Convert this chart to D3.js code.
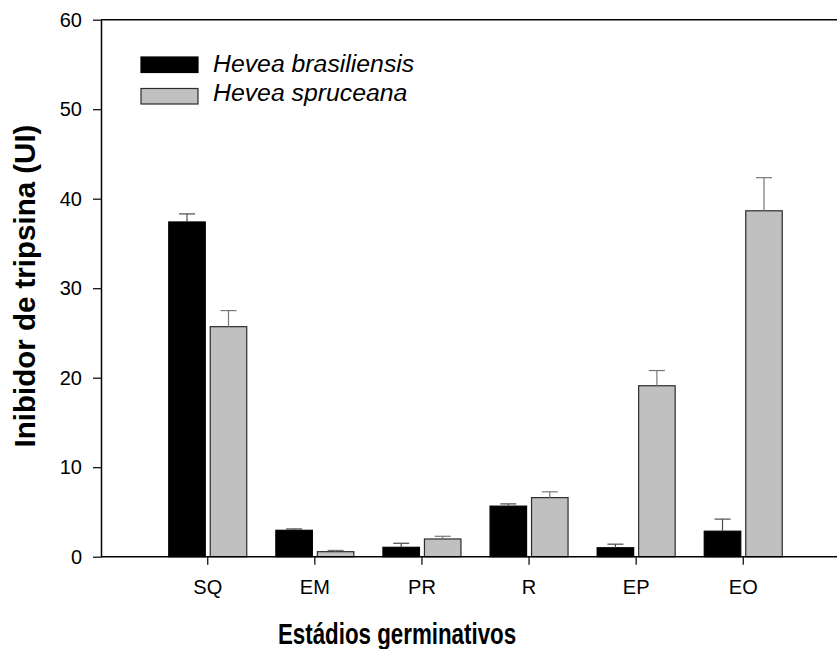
<!DOCTYPE html>
<html>
<head>
<meta charset="utf-8">
<script src="https://cdn.jsdelivr.net/npm/d3@7/dist/d3.min.js"></script>
<style>
  body { margin: 0; background: #fff; }
  svg { display: block; font-family: Arial, "Liberation Sans", sans-serif; }
</style>
</head>
<body>
<div id="chart"></div>
<script>
// stages and the two species
var stages = ['SQ', 'EM', 'PR', 'R', 'EP', 'EO'];
var series = ['Hevea brasiliensis', 'Hevea spruceana'];
var brasiliensis = [37.4, 2.95, 1.05, 5.65, 1.0, 2.85];
var brasiliensisErr = [0.9, 0.15, 0.45, 0.25, 0.4, 1.35];
var spruceana = [25.7, 0.56, 1.98, 6.6, 19.1, 38.65];
var spruceanaErr = [1.8, 0.14, 0.3, 0.65, 1.7, 3.7];
var yTicks = [0, 10, 20, 30, 40, 50, 60];

var width = 838, height = 649;
var plotLeft = 101, plotRight = 837, plotTop = 19.7, plotBottom = 556.7;

var colors = { 'Hevea brasiliensis': '#000000', 'Hevea spruceana': '#c0c0c0' };
var strokes = { 'Hevea brasiliensis': '#000000', 'Hevea spruceana': '#2b2b2b' };
var errColors = { 'Hevea brasiliensis': '#4a4a4a', 'Hevea spruceana': '#777777' };

var data = stages.map(function(s, i){
    return {
        stage: s,
        values: [
            { key: series[0], v: brasiliensis[i], e: brasiliensisErr[i] },
            { key: series[1], v: spruceana[i], e: spruceanaErr[i] }
        ]
    };
});

var svg = d3.select('#chart').append('svg')
    .attr('width', width)
    .attr('height', height);

var x = d3.scaleBand()
    .domain(stages)
    .range([154.2, 796.8]);

var x1 = d3.scaleBand()
    .domain(series)
    .range([-39, 39])
    .paddingInner(0.12);

var y = d3.scaleLinear()
    .domain([0, 60])
    .range([plotBottom, plotTop]);

// bars
var groups = svg.selectAll('.stage')
    .data(data)
    .enter().append('g')
    .attr('class', 'stage')
    .attr('transform', function(d){ return 'translate(' + (x(d.stage) + x.bandwidth() / 2) + ',0)'; });

groups.selectAll('rect')
    .data(function(d){ return d.values; })
    .enter().append('rect')
    .attr('x', function(d){ return x1(d.key); })
    .attr('width', x1.bandwidth())
    .attr('y', function(d){ return y(d.v); })
    .attr('height', function(d){ return y(0) - y(d.v); })
    .attr('fill', function(d){ return colors[d.key]; })
    .attr('stroke', function(d){ return strokes[d.key]; })
    .attr('stroke-width', 1.2);

// error bars, upper only
var errs = groups.selectAll('.err')
    .data(function(d){ return d.values; })
    .enter().append('g')
    .attr('class', 'err')
    .attr('stroke', function(d){ return errColors[d.key]; })
    .attr('stroke-width', 1.2);

errs.append('line')
    .attr('x1', function(d){ return x1(d.key) + x1.bandwidth() / 2; })
    .attr('x2', function(d){ return x1(d.key) + x1.bandwidth() / 2; })
    .attr('y1', function(d){ return y(d.v); })
    .attr('y2', function(d){ return y(d.v + d.e); });

errs.append('line')
    .attr('x1', function(d){ return x1(d.key) + x1.bandwidth() / 2 - 8; })
    .attr('x2', function(d){ return x1(d.key) + x1.bandwidth() / 2 + 8; })
    .attr('y1', function(d){ return y(d.v + d.e); })
    .attr('y2', function(d){ return y(d.v + d.e); });

// y axis
var yAxis = d3.axisLeft(y)
    .tickValues(yTicks)
    .tickSize(8)
    .tickSizeOuter(0)
    .tickPadding(11);

var gy = svg.append('g')
    .attr('transform', 'translate(' + plotLeft + ',0)')
    .call(yAxis);
gy.select('.domain').attr('stroke', '#000').attr('stroke-width', 1.5);
gy.selectAll('.tick line').attr('stroke', '#000').attr('stroke-width', 1.2);
gy.selectAll('.tick text')
    .attr('font-size', 20)
    .attr('font-family', 'Arial, "Liberation Sans", sans-serif')
    .attr('fill', '#000');

// x axis
var xAxis = d3.axisBottom(x)
    .tickSize(8)
    .tickSizeOuter(0)
    .tickPadding(15);

var gx = svg.append('g')
    .attr('transform', 'translate(0,' + plotBottom + ')')
    .call(xAxis);
gx.select('.domain').remove();
gx.selectAll('.tick line').attr('stroke', '#000').attr('stroke-width', 1.2);
gx.selectAll('.tick text')
    .attr('font-size', 20)
    .attr('font-family', 'Arial, "Liberation Sans", sans-serif')
    .attr('fill', '#000');

// frame lines: bottom and top
svg.append('line')
    .attr('x1', plotLeft).attr('x2', plotRight)
    .attr('y1', plotBottom).attr('y2', plotBottom)
    .attr('stroke', '#000').attr('stroke-width', 1.5);
svg.append('line')
    .attr('x1', plotLeft).attr('x2', plotRight)
    .attr('y1', plotTop).attr('y2', plotTop)
    .attr('stroke', '#000').attr('stroke-width', 1.5);

// axis titles
svg.append('text')
    .attr('transform', 'translate(397,644) scale(0.77,1)')
    .attr('text-anchor', 'middle')
    .attr('font-size', 29)
    .attr('font-weight', 'bold')
    .text('Estádios germinativos');

svg.append('text')
    .attr('transform', 'translate(35,286) rotate(-90)')
    .attr('text-anchor', 'middle')
    .attr('font-size', 29.5)
    .attr('font-weight', 'bold')
    .text('Inibidor de tripsina (UI)');

// legend
var legend = svg.selectAll('.legend')
    .data(series)
    .enter().append('g')
    .attr('class', 'legend');

legend.append('rect')
    .attr('x', 141)
    .attr('y', function(d, i){ return 57 + i * 31.5; })
    .attr('width', 57)
    .attr('height', 15.5)
    .attr('fill', function(d){ return colors[d]; })
    .attr('stroke', function(d){ return strokes[d]; })
    .attr('stroke-width', 1.2);

legend.append('text')
    .attr('x', 213)
    .attr('y', function(d, i){ return 72.3 + i * 28.7; })
    .attr('font-size', 24.8)
    .attr('font-style', 'italic')
    .text(function(d){ return d; });
</script>
</body>
</html>
